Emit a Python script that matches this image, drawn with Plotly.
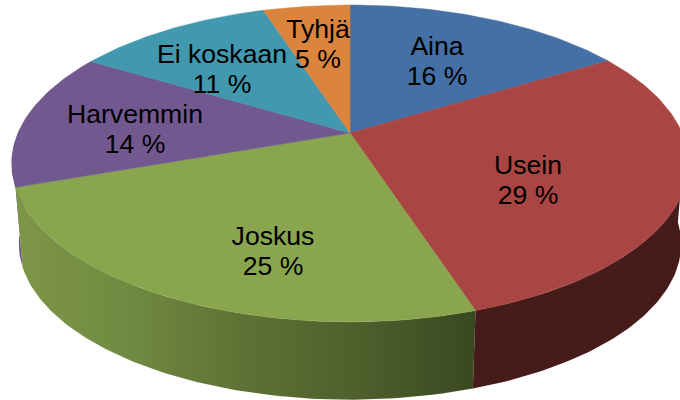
import numpy as np
import plotly.graph_objects as go

categories = ["Aina", "Usein", "Joskus", "Harvemmin", "Ei koskaan", "Tyhjä"]
values = [16.3, 28.7, 24.6, 14.0, 11.4, 5.0]
colors = ["#4570A5", "#A94644", "#89A54E", "#71588F", "#4198AF", "#DB843D"]

label_x = [437, 528, 273, 135, 222, 318]
label_y = [48, 167, 238, 116, 56, 31]
line_gap = 30

# fake 3d pie: a tilted disc seen in perspective
TILT = 0.192
APEX = (350, 133)
TOP_AX, TOP_AY = 332, 152.6
BASE_Y = 214
BASE_AX, BASE_AY = 325, 150


def project(theta, ax, ay, y0):
    denom = 1 + TILT * np.sin(theta)
    return APEX[0] + ax * np.cos(theta) / denom, y0 - ay * np.sin(theta) / denom


def arc(start, end):
    n = max(int(abs(end - start) * 60), 2)
    return np.linspace(start, end, n)


def wall_trace(start, end, **style):
    th = arc(start, end)
    x_top, y_top = project(th, TOP_AX, TOP_AY, APEX[1])
    x_base, y_base = project(th[::-1], BASE_AX, BASE_AY, BASE_Y)
    return go.Scatter(
        x=np.concatenate([x_top, x_base]),
        y=np.concatenate([y_top, y_base]),
        mode="lines",
        fill="toself",
        line={"width": 0},
        hoverinfo="skip",
        showlegend=False,
        **style,
    )


# slice edges, clockwise from twelve o'clock
edges = np.pi / 2 - 2 * np.pi * np.cumsum([0] + values) / sum(values)

fig = go.Figure()

# side walls
fig.add_trace(wall_trace(edges[3], edges[3] - 0.35, fillcolor="#66508A"))
fig.add_trace(
    wall_trace(
        edges[3],
        edges[2],
        fillgradient={
            "type": "horizontal",
            "colorscale": [
                [0, "#7D9647"],
                [0.25, "#708A41"],
                [0.5, "#5E7134"],
                [0.75, "#4E5F2C"],
                [1, "#3A4820"],
            ],
        },
    )
)
fig.add_trace(wall_trace(edges[2], edges[1] - 0.6, fillcolor="#451C1A"))

# top faces
for i, name in enumerate(categories):
    th = arc(edges[i], edges[i + 1])
    x_arc, y_arc = project(th, TOP_AX, TOP_AY, APEX[1])
    fig.add_trace(
        go.Scatter(
            x=np.concatenate([[APEX[0]], x_arc, [APEX[0]]]),
            y=np.concatenate([[APEX[1]], y_arc, [APEX[1]]]),
            mode="lines",
            fill="toself",
            fillcolor=colors[i],
            line={"color": colors[i], "width": 0.5},
            name=name,
            hoverinfo="name",
            showlegend=False,
        )
    )

# labels, two lines each
fig.add_trace(
    go.Scatter(
        x=label_x + label_x,
        y=label_y + [y + line_gap for y in label_y],
        mode="text",
        text=categories + [f"{v:.0f} %" for v in values],
        textposition="middle center",
        textfont={"family": "Liberation Sans, Arial, sans-serif", "size": 26.6, "color": "#000000"},
        hoverinfo="skip",
        showlegend=False,
    )
)

fig.update_layout(
    width=680,
    height=400,
    margin={"l": 0, "r": 0, "t": 0, "b": 0},
    paper_bgcolor="white",
    plot_bgcolor="white",
    xaxis={"range": [0, 680], "visible": False, "fixedrange": True},
    yaxis={"range": [400, 0], "visible": False, "fixedrange": True},
)

fig.write_html(
    "out.html",
    config={"displayModeBar": False},
    post_script="document.body.style.margin = '0';",
)
